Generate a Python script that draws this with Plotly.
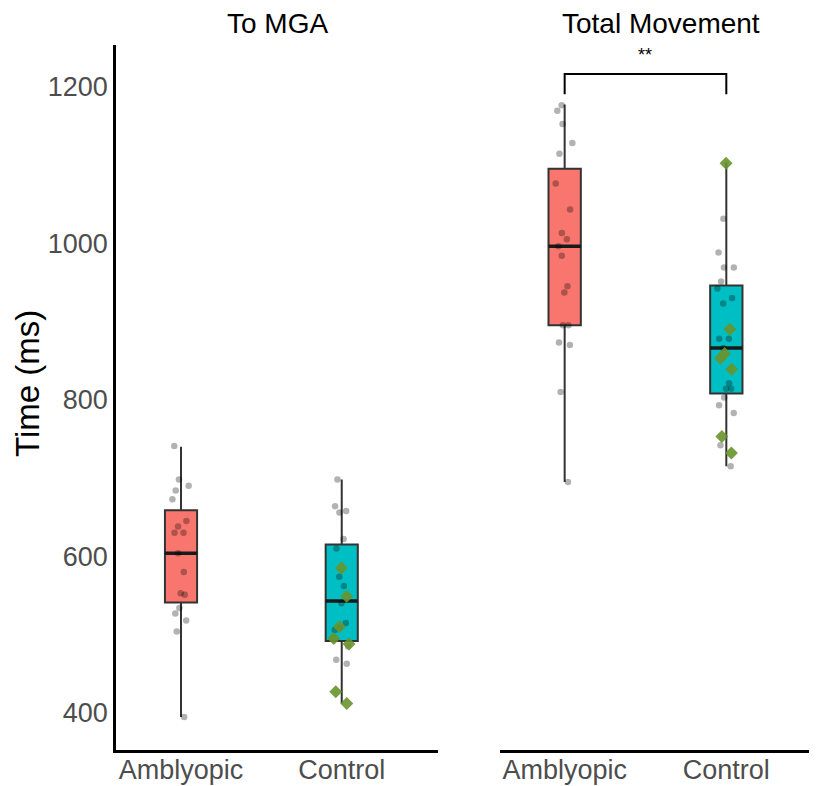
import plotly.graph_objects as go

# page body has an 8px margin, so the figure is drawn 8px smaller and offset
OFF = 8
W, H = 817 - OFF, 786 - OFF

groups = ["Amblyopic", "Control"]
panels = ["To MGA", "Total Movement"]
y_ticks = [400, 600, 800, 1000, 1200]

# Box summaries: [lower whisker, Q1, median, Q3, upper whisker]
mga_amb_box = [395, 541, 604, 659, 740]
mga_ctrl_box = [412, 492, 543, 615, 698]
tot_amb_box = [695, 895, 996, 1095, 1177]
tot_ctrl_box = [715, 808, 866, 946, 1103]

# Individual observations (grey jittered points)
mga_amb_pts = [741, 698, 690, 684, 673, 645, 638, 630, 630, 604, 580, 551, 553, 534, 527, 518, 504, 395]
mga_ctrl_pts = [698, 664, 658, 656, 622, 610, 574, 562, 540, 515, 509, 506, 485, 468, 463]
tot_amb_pts = [1176, 1169, 1152, 1128, 1114, 1076, 1043, 1013, 1005, 996, 984, 945, 937, 895, 895, 873, 870, 810, 695]
tot_ctrl_pts = [1031, 988, 969, 969, 951, 942, 930, 923, 878, 878, 866, 821, 814, 814, 803, 793, 783, 742, 715]

# Highlighted control observations (green diamonds)
mga_ctrl_hi = [585, 549, 510, 495, 488, 427, 412]
tot_ctrl_hi = [1102, 890, 859, 853, 839, 753, 732]

# Significance bracket (Total Movement)
sig_top = 1216
sig_tip = 1190
sig_label = "**"

RED = "#F8766D"
CYAN = "#00BFC4"
FONT = "Liberation Sans, Arial, sans-serif"


def px(x):
    return (x - OFF) / W


def py(y):
    return 1 - (y - OFF) / H


fig = go.Figure()


def add_box(cat, stats, color, xa, ya):
    lo, q1, med, q3, hi = stats
    fig.add_trace(go.Box(
        x=[cat], lowerfence=[lo], q1=[q1], median=[med], q3=[q3], upperfence=[hi],
        fillcolor=color, line=dict(color="#333333", width=2), width=0.2,
        whiskerwidth=0, boxpoints=False, xaxis=xa, yaxis=ya, showlegend=False,
        hoverinfo="skip"))
    # thicker median line
    fig.add_trace(go.Box(
        x=[cat], lowerfence=[med], q1=[med], median=[med], q3=[med], upperfence=[med],
        fillcolor="rgba(0,0,0,0)", line=dict(color="#1a1a1a", width=3.4), width=0.2,
        whiskerwidth=0, boxpoints=False, xaxis=xa, yaxis=ya, showlegend=False,
        hoverinfo="skip"))


def add_points(cat, vals, xa, ya, color, size, symbol="circle"):
    fig.add_trace(go.Box(
        x=[cat] * len(vals), y=vals, boxpoints="all", jitter=0.6, pointpos=0,
        width=0.2, fillcolor="rgba(0,0,0,0)", line=dict(color="rgba(0,0,0,0)", width=0),
        whiskerwidth=0,
        marker=dict(color=color, size=size, symbol=symbol, line=dict(width=0)),
        xaxis=xa, yaxis=ya, showlegend=False, hoverinfo="skip"))


add_box(groups[0], mga_amb_box, RED, "x", "y")
add_box(groups[1], mga_ctrl_box, CYAN, "x", "y")
add_box(groups[0], tot_amb_box, RED, "x2", "y2")
add_box(groups[1], tot_ctrl_box, CYAN, "x2", "y2")

GREY = "rgba(0,0,0,0.3)"
GREEN = "rgba(104,148,44,0.9)"
add_points(groups[0], mga_amb_pts, "x", "y", GREY, 6.5)
add_points(groups[1], mga_ctrl_pts, "x", "y", GREY, 6.5)
add_points(groups[1], mga_ctrl_hi, "x", "y", GREEN, 10, "diamond")
add_points(groups[0], tot_amb_pts, "x2", "y2", GREY, 6.5)
add_points(groups[1], tot_ctrl_pts, "x2", "y2", GREY, 6.5)
add_points(groups[1], tot_ctrl_hi, "x2", "y2", GREEN, 10, "diamond")

fig.add_trace(go.Scatter(
    x=[groups[0], groups[0], groups[1], groups[1]],
    y=[sig_tip, sig_top, sig_top, sig_tip],
    mode="lines", line=dict(color="black", width=2),
    xaxis="x2", yaxis="y2", showlegend=False, hoverinfo="skip"))

y_dom = [py(750), py(45)]
y_rng = [352.7, 1253]

xcommon = dict(type="category", categoryorder="array", categoryarray=groups,
               showline=True, linecolor="black", linewidth=3, ticks="",
               showgrid=False, zeroline=False, automargin=False,
               ticklabelstandoff=-6,
               tickfont=dict(size=27, color="#4d4d4d", family=FONT))

fig.update_layout(
    width=W, height=H,
    margin=dict(l=0, r=0, t=0, b=0),
    paper_bgcolor="white", plot_bgcolor="white",
    font=dict(family=FONT),
    boxmode="overlay",
    xaxis=dict(domain=[px(116), px(438)], range=[-0.4045, 1.599], anchor="y", **xcommon),
    xaxis2=dict(domain=[px(500), 1.0], range=[-0.40, 1.561], anchor="y2", **xcommon),
    yaxis=dict(domain=y_dom, range=y_rng, anchor="x", tickvals=y_ticks,
               showline=True, linecolor="black", linewidth=2.5, ticks="",
               showgrid=False, zeroline=False, automargin=False,
               tickfont=dict(size=27, color="#4d4d4d", family=FONT)),
    yaxis2=dict(domain=y_dom, range=y_rng, anchor="x2", showline=False,
                showticklabels=False, showgrid=False, zeroline=False, ticks=""),
    annotations=[
        dict(text=panels[0], x=px(277), y=py(23), xref="paper", yref="paper",
             xanchor="center", yanchor="middle",
             showarrow=False, font=dict(size=28, color="black", family=FONT)),
        dict(text=panels[1], x=px(661), y=py(23), xref="paper", yref="paper",
             xanchor="center", yanchor="middle",
             showarrow=False, font=dict(size=28, color="black", family=FONT)),
        dict(text="Time (ms)", x=px(27), y=py(384), xref="paper", yref="paper",
             xanchor="center", yanchor="middle",
             textangle=-90, showarrow=False, font=dict(size=33, color="black", family=FONT)),
        dict(text=sig_label, x=0.5, y=sig_top, xref="x2", yref="y2", yanchor="bottom",
             yshift=7, showarrow=False, font=dict(size=18, color="black", family=FONT)),
    ],
)

fig.write_html("out.html")
